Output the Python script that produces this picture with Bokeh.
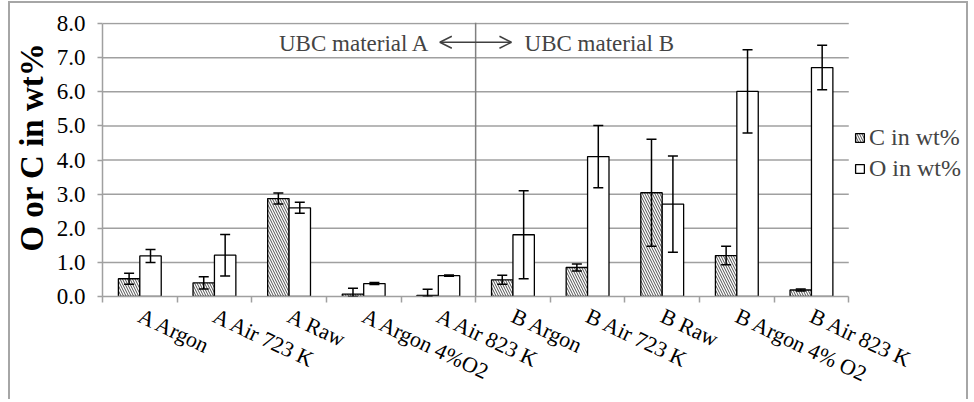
import numpy as np
from bokeh.plotting import figure
from bokeh.models import (Range1d, FixedTicker, Span, Label, Arrow, OpenHead, Whisker,
                          TeeHead, ColumnDataSource, Legend, LegendItem, NumeralTickFormatter)
from bokeh.embed import file_html
from bokeh.resources import INLINE

# ---- data ----
categories = ["A Argon", "A Air 723 K", "A Raw", "A Argon 4%O2", "A Air 823 K",
              "B Argon", "B Air 723 K", "B Raw", "B Argon 4% O2", "B Air 823 K"]
c_wt = [0.52, 0.40, 2.87, 0.07, 0.03, 0.49, 0.85, 3.04, 1.20, 0.19]
c_err = [0.16, 0.18, 0.16, 0.17, 0.18, 0.13, 0.10, 1.57, 0.27, 0.03]
o_wt = [1.19, 1.21, 2.60, 0.38, 0.61, 1.81, 4.10, 2.71, 6.01, 6.71]
o_err = [0.19, 0.61, 0.16, 0.03, 0.02, 1.29, 0.91, 1.41, 1.22, 0.65]
series_names = ["C in wt%", "O in wt%"]
y_ticks = [0, 1, 2, 3, 4, 5, 6, 7, 8]
y_title = "O or C in wt%"
group_labels = ["UBC material A", "UBC material B"]

FONT = "'Liberation Serif', 'Times New Roman', serif"
GRID = "#a0a0a0"

n = len(categories)
centers = np.arange(n) + 0.5
boundaries = list(np.arange(n + 1).astype(float))
bar_w = 0.287

# layout: frame spans plot area plus the legend zone at its right
W, H = 960, 398
BL, BR, BT, BB = 90, 4, 19, 105
px_per_cat = 74.8
x_max = (W - BL - BR) / px_per_cat


def make_src(xs, vals, errs):
    vals = np.array(vals, dtype=float)
    errs = np.array(errs, dtype=float)
    return ColumnDataSource(dict(x=xs, top=vals,
                                 lo=np.clip(vals - errs, 0, None),
                                 hi=vals + errs))


src_c = make_src(centers - bar_w / 2, c_wt, c_err)
src_o = make_src(centers + bar_w / 2, o_wt, o_err)

p = figure(width=W, height=H, x_range=Range1d(0, x_max), y_range=Range1d(0, 8.03),
           output_backend="svg", toolbar_location=None,
           min_border_left=BL, min_border_right=BR, min_border_top=BT, min_border_bottom=BB)
p.styles = {"border-left": "2px solid #a6a6a6", "border-right": "2px solid #a6a6a6",
            "border-top": "2px solid #a6a6a6", "margin-left": "8px", "margin-top": "1px"}
p.outline_line_color = None
p.background_fill_color = "white"
p.border_fill_color = "white"

# grid (only across the category area)
p.xgrid.grid_line_color = None
p.ygrid.grid_line_color = None
p.segment(x0=0, x1=n, y0=y_ticks[1:], y1=y_ticks[1:], line_color=GRID, line_width=1.5)

# y axis
ya = p.yaxis[0]
ya.ticker = FixedTicker(ticks=y_ticks)
ya.bounds = (0, 8)
ya.formatter = NumeralTickFormatter(format="0.0")
ya.axis_line_color = GRID
ya.axis_line_width = 1.5
ya.major_tick_line_color = GRID
ya.major_tick_line_width = 1.5
ya.major_tick_out = 5
ya.major_tick_in = 0
ya.minor_tick_line_color = None
ya.major_label_text_font = FONT
ya.major_label_text_font_size = "23px"
ya.major_label_text_color = "black"
ya.major_label_standoff = 12
ya.axis_label = "\u00a0" * 3 + y_title
ya.axis_label_text_font = FONT
ya.axis_label_text_font_size = "33px"
ya.axis_label_text_font_style = "bold"
ya.axis_label_text_color = "black"
ya.axis_label_standoff = 4

# x axis
xa = p.xaxis[0]
xa.ticker = FixedTicker(ticks=list(centers), minor_ticks=boundaries)
xa.bounds = (0, n)
xa.major_label_overrides = {float(c): lab for c, lab in zip(centers, categories)}
xa.axis_line_color = GRID
xa.axis_line_width = 1.5
xa.major_tick_line_color = None
xa.minor_tick_line_color = GRID
xa.minor_tick_line_width = 1.5
xa.minor_tick_out = 6
xa.minor_tick_in = 0
xa.major_label_orientation = -0.44
xa.major_label_text_font = FONT
xa.major_label_text_font_size = "22px"
xa.major_label_text_color = "black"
xa.major_label_standoff = 12

# divider between material A and B
p.add_layout(Span(location=n / 2, dimension="height", line_color="#808080", line_width=1.5))

# bars
rc = p.vbar(x="x", top="top", bottom=0, width=bar_w, source=src_c,
            fill_color="white", line_color="black", line_width=1.3,
            hatch_pattern="\\", hatch_color="#505050", hatch_scale=5, hatch_weight=1)
ro = p.vbar(x="x", top="top", bottom=0, width=bar_w, source=src_o,
            fill_color="white", line_color="black", line_width=1.3)

for s in (src_c, src_o):
    w = Whisker(base="x", upper="hi", lower="lo", source=s, line_color="black", line_width=1.5,
                upper_head=TeeHead(size=10, line_width=1.5, line_color="black"),
                lower_head=TeeHead(size=10, line_width=1.5, line_color="black"))
    w.level = "annotation"
    p.add_layout(w)

# group annotations
p.add_layout(Label(x=4.385, y=7.42, text=group_labels[0], text_align="right",
                   text_baseline="middle", text_font=FONT, text_font_size="23px"))
p.add_layout(Label(x=5.655, y=7.42, text=group_labels[1], text_align="left",
                   text_baseline="middle", text_font=FONT, text_font_size="23px"))
p.add_layout(Arrow(x_start=4.52, x_end=5.48, y_start=7.45, y_end=7.45,
                   line_color="#404040", line_width=1.5,
                   start=OpenHead(size=12, line_color="#404040", line_width=1.5),
                   end=OpenHead(size=12, line_color="#404040", line_width=1.5)))

legend = Legend(items=[LegendItem(label=series_names[0], renderers=[rc]),
                       LegendItem(label=series_names[1], renderers=[ro])],
                location=(752, 114), padding=0, margin=0, border_line_color=None,
                background_fill_alpha=0, label_text_font=FONT, label_text_font_size="24px",
                glyph_width=11, glyph_height=11, label_standoff=4, spacing=4)
p.add_layout(legend)

open("out.html", "w").write(file_html(p, INLINE))
